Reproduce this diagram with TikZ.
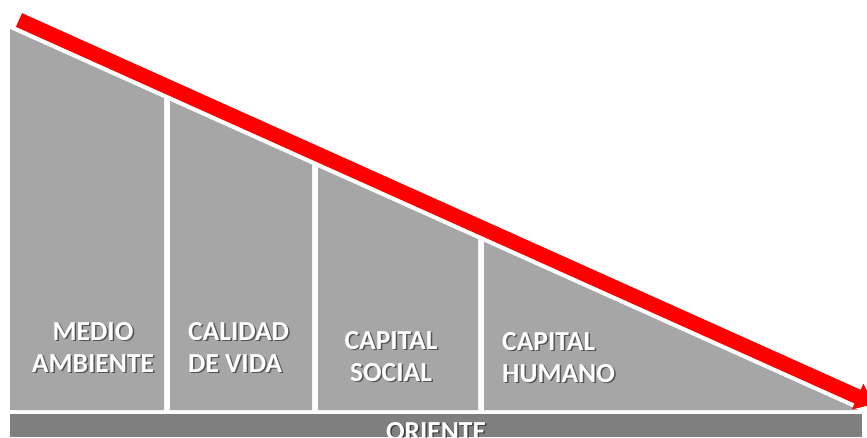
\documentclass[tikz,border=0pt]{standalone}
\usepackage{fontspec}
\setmainfont{Carlito}
\usetikzlibrary{arrows.meta}

\definecolor{panelgray}{HTML}{A6A6A6}
\definecolor{bargray}{HTML}{7F7F7F}
\definecolor{arrowred}{HTML}{FF0000}

\tikzset{
  panel/.style={fill=panelgray},
  caption/.style={text=white, inner sep=0pt, font=\fontsize{27.5}{32}\selectfont\bfseries},
  caption shade/.style={caption, text=black, opacity=0.5},
  trend/.style={draw=arrowred, line width=15pt, arrows={-Triangle[length=18pt, width=27pt, fill=arrowred]}},
}

% top edge of the grey wedge at a given x
\newcommand\wedgetop[1]{29+0.449*(#1-10)}
% name, anchor, align, position (x,y), text
\newcommand\panellabel[5]{%
  \node[caption shade, anchor=#2, align=#3] at ([shift={(1.5,1.5)}]#4) {#5};
  \node[caption,       anchor=#2, align=#3] (#1) at (#4) {#5};}

\begin{document}
\begin{tikzpicture}[x=1pt, y=-1pt]
\useasboundingbox (0,0) rectangle (867,437);

% the four panels under the slope
\foreach \xa/\xb in {10/164, 170/312, 318/478, 484/858.6}
  \fill[panel] (\xa,410) -- (\xa,{\wedgetop{\xa}}) -- (\xb,{\wedgetop{\xb}}) -- (\xb,410) -- cycle;

% base bar
\fill[bargray] (10,414) rectangle (862,437);

% falling arrow
\coordinate (trend start) at (19,20);
\coordinate (trend tip)   at (874,404);
\draw[trend] (trend start) -- (trend tip);

\panellabel{medio}{north}{center}{93,322}{MEDIO\\AMBIENTE}
\panellabel{calidad}{north west}{left}{188,322}{CALIDAD\\DE VIDA}
\panellabel{social}{north}{center}{391,331}{CAPITAL\\SOCIAL}
\panellabel{humano}{north west}{left}{502,332}{CAPITAL\\HUMANO}
\panellabel{oriente}{north}{center}{436,422}{ORIENTE}
\end{tikzpicture}
\end{document}
